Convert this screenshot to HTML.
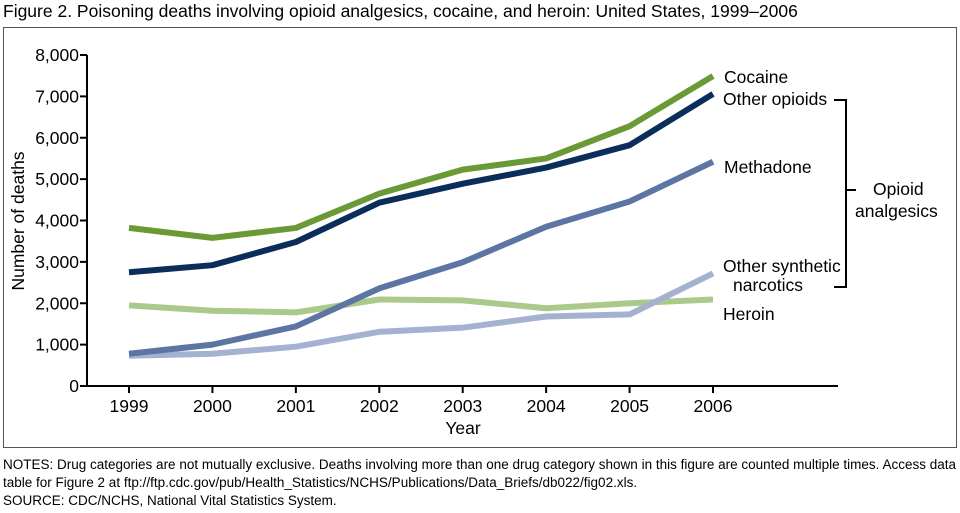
<!DOCTYPE html>
<html><head><meta charset="utf-8"><style>
body{margin:0;background:#fff;font-family:"Liberation Sans",Arial,sans-serif;}
#wrap{position:relative;width:960px;height:513px;}
.t{position:absolute;color:#000;white-space:nowrap;}
</style></head><body><div id="wrap">
<div class="t" style="left:3px;top:1px;font-size:17.5px;">Figure 2. Poisoning deaths involving opioid analgesics, cocaine, and heroin: United States, 1999–2006</div>
<svg id="c" width="960" height="513" style="position:absolute;left:0;top:0">
<rect x="3.5" y="27.5" width="953" height="420" fill="none" stroke="#555" stroke-width="1"/>
</svg>
<div class="t" style="left:3px;top:456px;font-size:13.5px;line-height:18px;">NOTES: Drug categories are not mutually exclusive. Deaths involving more than one drug category shown in this figure are counted multiple times. Access data<br>table for Figure 2 at ftp://ftp.cdc.gov/pub/Health_Statistics/NCHS/Publications/Data_Briefs/db022/fig02.xls.<br>SOURCE: CDC/NCHS, National Vital Statistics System.</div>
</div>
<script>
const years=["1999","2000","2001","2002","2003","2004","2005","2006"];
const yTicks=[0,1000,2000,3000,4000,5000,6000,7000,8000];
const cocaine=[3822,3580,3820,4650,5230,5500,6280,7490];
const otherOpioids=[2750,2920,3480,4430,4890,5280,5820,7060];
const methadone=[780,1000,1440,2360,2990,3850,4460,5420];
const otherSynthetic=[730,780,950,1310,1410,1680,1730,2720];
const heroin=[1950,1820,1780,2090,2070,1880,2000,2090];
const NS="http://www.w3.org/2000/svg",svg=document.getElementById('c');
const X=i=>129+i*83.43, Y=v=>386-v*(331/8000);
function el(t,a,p){const e=document.createElementNS(NS,t);for(const k in a)e.setAttribute(k,a[k]);(p||svg).appendChild(e);return e;}
let ax=el('path',{d:'M87,55 V386 H838',fill:'none',stroke:'#000','stroke-width':2});


yTicks.forEach(v=>{
 let l=el('line',{x1:80,x2:87,y1:Y(v),y2:Y(v),stroke:'#000','stroke-width':2});
 
 
 let t=el('text',{x:79,y:Y(v)+6,'text-anchor':'end','font-size':17.5});
 
 
 t.textContent=v.toLocaleString('en-US');
});
years.forEach((y,i)=>{
 let l=el('line',{x1:X(i),x2:X(i),y1:386,y2:393,stroke:'#000','stroke-width':2});
 
 
 let t=el('text',{x:X(i),y:412,'text-anchor':'middle','font-size':17.5});
 
 
 t.textContent=y;
});
let xt=el('text',{x:463,y:434,'text-anchor':'middle','font-size':17.5});


xt.textContent='Year';
let yt=el('text',{x:0,y:0,'text-anchor':'middle','font-size':17.5,transform:'translate(24,221) rotate(-90)'});


yt.textContent='Number of deaths';
const series=[
 [heroin,'#aac98a','heroin-line'],
 [otherSynthetic,'#a5b1d0','other-synthetic-line'],
 [methadone,'#5d75a3','methadone-line'],
 [otherOpioids,'#0a2d5a','other-opioids-line'],
 [cocaine,'#6a9a35','cocaine-line']];
series.forEach(s=>{
 let p=el('polyline',{points:s[0].map((v,i)=>X(i)+','+Y(v)).join(' '),fill:'none',stroke:s[1],'stroke-width':6,'stroke-linejoin':'round'});
 
 
});
const labels=[['Cocaine',724,83],['Other opioids',723,105],['Methadone',724,173],['Other synthetic',723,272],['narcotics',733,291],['Heroin',723,320],['Opioid',873,195],['analgesics',855,217]];
labels.forEach(l=>{
 let t=el('text',{x:l[1],y:l[2],'font-size':17.5});
 
 
 t.textContent=l[0];
});
let br=el('path',{d:'M834,100 H846 V287 H834 M846,190 H856',fill:'none',stroke:'#000','stroke-width':2});


</script></body></html>
